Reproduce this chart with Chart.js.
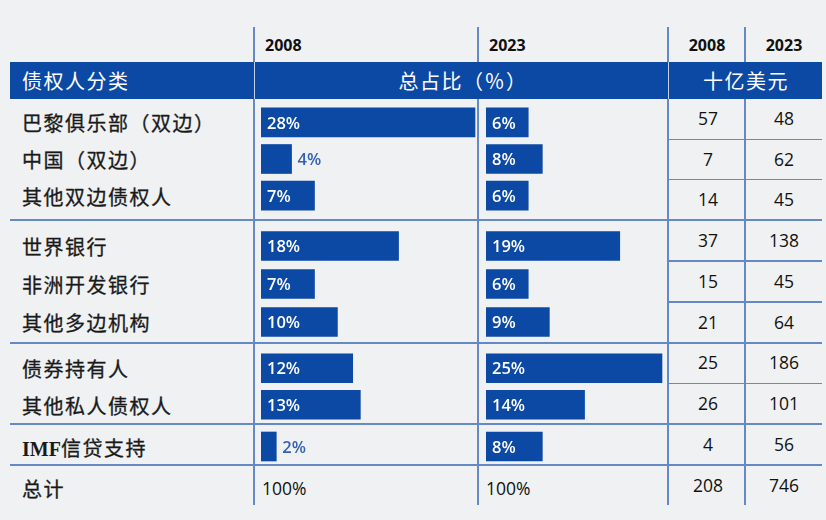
<!DOCTYPE html>
<html lang="zh">
<head>
<meta charset="UTF-8">
<title>债权人分类</title>
<script src="https://cdn.jsdelivr.net/npm/chart.js"></script>
<style>
    body { margin: 0; background: #eff1f3; }
    #wrap {
        position: relative;
        width: 826px;
        height: 520px;
        background: #eff1f3;
        overflow: hidden;
        font-family: 'Noto Sans CJK SC', 'Noto Sans', sans-serif;
    }
    .t { position: absolute; white-space: nowrap; line-height: 1; }
    .line { position: absolute; background: #6489c6; }
    .band { position: absolute; left: 10px; top: 62px; width: 812px; height: 37px; background: #0c49a4; }
    .row-label { font-size: 20px; letter-spacing: 1.5px; color: #1a1a1a; -webkit-text-stroke: 0.3px #1a1a1a; }
    .num { font-family: 'Open Sans', sans-serif; font-size: 17.5px; font-weight: 500; color: #111; }
    .year { font-family: 'Open Sans', sans-serif; font-size: 16px; font-weight: 700; color: #111; }
    .head { font-size: 20px; letter-spacing: 1.5px; color: #fff; }
    .imf { font-family: 'Liberation Serif', serif; font-weight: 700; letter-spacing: 0; -webkit-text-stroke: 0; }
    canvas { position: absolute; }
</style>
</head>
<body>
<div id="wrap"></div>

<script>
const creditors = ['巴黎俱乐部（双边）', '中国（双边）', '其他双边债权人',
                   '世界银行', '非洲开发银行', '其他多边机构',
                   '债券持有人', '其他私人债权人', 'IMF信贷支持'];
const share2008 = [28, 4, 7, 18, 7, 10, 12, 13, 2];
const share2023 = [6, 8, 6, 19, 6, 9, 25, 14, 8];
const usd2008 = [57, 7, 14, 37, 15, 21, 25, 26, 4];
const usd2023 = [48, 62, 45, 138, 45, 64, 186, 101, 56];
const groupSizes = [3, 3, 2, 1];
const years = ['2008', '2023'];
const totalLabel = '总计';
const totalShare = ['100%', '100%'];
const totalUsd = [208, 746];

const BAR = '#0c49a4';
const wrap = document.getElementById('wrap');

function put(cls, html, x, y, align) {
    const el = document.createElement('div');
    el.className = 't ' + cls;
    el.innerHTML = html;
    el.style.left = x + 'px';
    el.style.top = y + 'px';
    const tx = align === 'center' ? '-50%' : align === 'right' ? '-100%' : '0';
    el.style.transform = 'translate(' + tx + ', -50%)';
    wrap.appendChild(el);
    return el;
}
function line(x, y, w, h, color) {
    const el = document.createElement('div');
    el.className = 'line';
    el.style.left = x + 'px'; el.style.top = y + 'px';
    el.style.width = w + 'px'; el.style.height = h + 'px';
    if (color) el.style.background = color;
    wrap.appendChild(el);
}

// grid
[254, 478, 668, 745].forEach(x => line(x - 0.75, 27, 1.5, 478));
const groupBounds = [99, 220, 343, 424, 465, 505];
groupBounds.slice(1, -1).forEach(y => line(10, y - 0.75, 812, 1.5));

// header band
const band = document.createElement('div');
band.className = 'band';
wrap.appendChild(band);
line(253.5, 62, 1.5, 37, 'rgba(255,255,255,0.75)');
line(667.5, 62, 1.5, 37, 'rgba(255,255,255,0.75)');
put('head', '债权人分类', 22, 81, 'left');
put('head', '总占比（％）', 463, 81, 'center');
put('head', '十亿美元', 746, 81, 'center');

put('year', years[0], 265, 45, 'left');
put('year', years[1], 489, 45, 'left');
put('year', years[0], 707, 45, 'center');
put('year', years[1], 784, 45, 'center');

// bar chart boxes per group (top, height)
const boxes = [{ top: 104, h: 110 }, { top: 227, h: 114 }, { top: 350, h: 73 }, { top: 428, h: 37 }];
const cols = [
    { left: 261, width: 222, max: 29.05, data: share2008 },
    { left: 486, width: 180, max: 25.57, data: share2023 }
];

const valueLabels = {
    id: 'valueLabels',
    afterDatasetsDraw(chart) {
        const ctx = chart.ctx;
        const ds = chart.data.datasets[0];
        ctx.save();
        ctx.font = '600 16.5px "Open Sans"';
        ctx.textBaseline = 'middle';
        chart.getDatasetMeta(0).data.forEach((bar, i) => {
            const p = bar.getProps(['x', 'y', 'base'], true);
            const len = p.x - p.base;
            const txt = ds.data[i] + '%';
            if (len > 34) {
                ctx.fillStyle = '#ffffff';
                ctx.fillText(txt, p.base + 6, p.y + 1.5);
            } else {
                ctx.fillStyle = '#3461b2';
                ctx.fillText(txt, p.x + 6, p.y + 1.5);
            }
        });
        ctx.restore();
    }
};

let start = 0;
groupSizes.forEach((n, g) => {
    const idx = [...Array(n).keys()].map(k => start + k);
    const box = boxes[g];
    const pitch = box.h / n;

    cols.forEach(col => {
        const cv = document.createElement('canvas');
        cv.width = col.width; cv.height = box.h;
        cv.style.left = col.left + 'px'; cv.style.top = box.top + 'px';
        cv.style.width = col.width + 'px'; cv.style.height = box.h + 'px';
        wrap.appendChild(cv);
        new Chart(cv, {
            type: 'bar',
            data: {
                labels: idx.map(i => creditors[i]),
                datasets: [{
                    data: idx.map(i => col.data[i]),
                    backgroundColor: BAR,
                    borderWidth: 0,
                    barThickness: 29,
                    categoryPercentage: 1
                }]
            },
            options: {
                indexAxis: 'y',
                responsive: false,
                animation: false,
                layout: { padding: 0 },
                plugins: { legend: { display: false }, tooltip: { enabled: false } },
                scales: {
                    x: { display: false, min: 0, max: col.max },
                    y: { display: false }
                }
            },
            plugins: [valueLabels]
        });
    });

    // labels and dollar figures
    const cellH = (groupBounds[g + 1] - groupBounds[g]) / n;
    idx.forEach((i, k) => {
        const cy = box.top + pitch * (k + 0.5) + 1;
        const name = creditors[i].replace(/^([A-Z]+)/, '<span class="imf">$1</span>');
        put('row-label', name, 22, cy, 'left');
        const uy = groupBounds[g] + cellH * (k + 0.5);
        put('num', usd2008[i], 708, uy, 'center');
        put('num', usd2023[i], 784, uy, 'center');
        if (k < n - 1) line(668, groupBounds[g] + cellH * (k + 1) - 0.75, 154, 1.5);
    });
    start += n;
});

// total row
put('row-label', totalLabel, 22, 489, 'left');
put('num', totalShare[0], 262, 489, 'left');
put('num', totalShare[1], 486, 489, 'left');
put('num', totalUsd[0], 708, 486, 'center');
put('num', totalUsd[1], 784, 486, 'center');
</script>
</body>
</html>
